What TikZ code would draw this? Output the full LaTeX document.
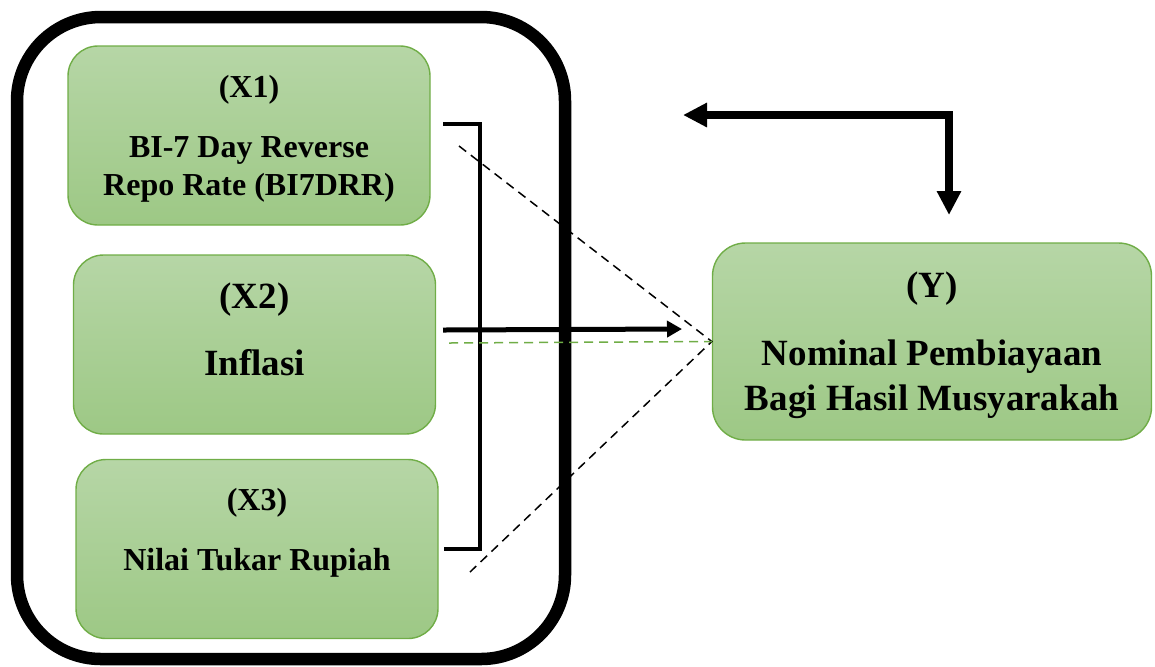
\documentclass[tikz,border=0pt]{standalone}
\usepackage{fontspec}
\setmainfont{Liberation Serif}
\usetikzlibrary{arrows.meta}
\definecolor{box_top}{RGB}{182,214,166}
\definecolor{box_bottom}{RGB}{157,200,133}
\definecolor{edge_green}{RGB}{112,173,71}

\begin{document}
\begin{tikzpicture}[x=0.5pt,y=-0.5pt,line join=miter]
    \tikzstyle{var}=[draw=edge_green, line width=0.7pt, rounded corners=15pt, top color=box_top, bottom color=box_bottom, minimum width=181pt, minimum height=89.5pt, inner sep=0pt]
    \tikzstyle{small}=[anchor=base, inner sep=0pt, font=\bfseries\fontsize{16}{19}\selectfont]
    \tikzstyle{big}=[anchor=base, inner sep=0pt, font=\bfseries\fontsize{18.5}{22}\selectfont]
    \tikzstyle{link}=[line width=2.5pt, -{Triangle[length=7.5pt,width=8pt]}]
    \tikzstyle{guide}=[line width=0.75pt, dash pattern=on 4.5pt off 3pt]

    \useasboundingbox (0,0) rectangle (1155,666);

    % frame round the three variables
    \draw[line width=6.25pt, rounded corners=42pt] (17,17) rectangle (565,659);

    \node[var]                                      (x1) at (249,135.5) {};
    \node[var]                                      (x2) at (254.5,344.5) {};
    \node[var]                                      (x3) at (257,549) {};
    \node[var, minimum width=219.5pt, minimum height=98.5pt, rounded corners=16.5pt] (y) at (932,341.5) {};

    \node[small] (x1h) at (249,97)    {(X1)};
    \node[small] (x1a) at (249,157)   {BI-7 Day Reverse};
    \node[small] (x1b) at (249,195)   {Repo Rate (BI7DRR)};
    \node[big]   (x2h) at (254.5,308) {(X2)};
    \node[big]   (x2a) at (254.5,375) {Inflasi};
    \node[small] (x3h) at (257,510)   {(X3)};
    \node[small] (x3a) at (257,570)   {Nilai Tukar Rupiah};
    \node[big]   (yh)  at (932,297)   {(Y)};
    \node[big]   (ya)  at (932,365)   {Nominal Pembiayaan};
    \node[big]   (yb)  at (932,410)   {Bagi Hasil Musyarakah};

    \coordinate (b1) at (443,124);
    \coordinate (b2) at (444,549);
    \coordinate (a1) at (443,330);
    \coordinate (a2) at (682,329);
    \coordinate (d1) at (459,146);
    \coordinate (d2) at (470,572);
    \coordinate (g1) at (449,343);
    \coordinate (f1) at (683,115);
    \coordinate (f2) at (949,215);

    % bracket
    \draw[line width=2.3pt] (b1) -- (480,124) -- (480,549) -- (b2);
    \draw[link] (a1) -- (a2);
    \draw[guide] (d1) -- (y.west) -- (d2);
    \draw[guide, edge_green] (g1) -- (y.west);
    \draw[line width=3.75pt, {Triangle[length=12pt,width=11.5pt]}-{Triangle[length=12pt,width=11.5pt]}] (f1) -| (f2);
\end{tikzpicture}
\end{document}
